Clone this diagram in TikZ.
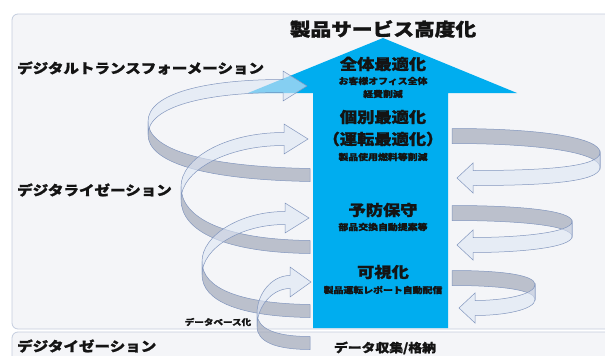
\documentclass[tikz,border=0pt]{standalone}
\usepackage{fontspec}
\newfontfamily\jp{Noto Sans CJK JP}[BoldFeatures={FakeBold=1.2}]
\newcommand\hstretch[1]{\scalebox{1.15}[1]{#1}}
\definecolor{panelbg}{RGB}{244,245,248}
\definecolor{panelline}{RGB}{196,205,222}
\definecolor{bigblue}{RGB}{0,173,239}
\definecolor{ribgray}{RGB}{160,167,184}
\definecolor{ribfront}{RGB}{222,230,244}
\definecolor{ribedge}{RGB}{130,150,190}
\definecolor{ink}{RGB}{20,20,20}
\def\hw{6.5}\def\hh{15}
\newcommand\gband[8]{\path[grayb] (#1,#2-\hw) .. controls (#3,#4-\hw) and (#5,#6-\hw) .. (#7,#8-\hw) -- (#7,#8+\hw) .. controls (#5,#6+\hw) and (#3,#4+\hw) .. (#1,#2+\hw) -- cycle;}
\newcommand\farrow[9]{\path[frontb] (#1,#2-\hw) .. controls (#3,#4-\hw) and (#5,#6-\hw) .. (#7,#8-\hw) -- (#7,#8-\hh) -- (#9,#8) -- (#7,#8+\hh) -- (#7,#8+\hw) .. controls (#5,#6+\hw) and (#3,#4+\hw) .. (#1,#2+\hw) -- cycle;}
\begin{document}
\begin{tikzpicture}[x=1pt,y=-1pt,
  panel/.style={fill=panelbg,draw=panelline,line width=0.8,rounded corners=6},
  grayb/.style={fill=ribgray,fill opacity=0.68,draw=ribedge,line width=0.5},
  frontb/.style={fill=ribfront,fill opacity=0.6,draw=ribedge,line width=0.5},
  lbl/.style={font=\jp\bfseries\fontsize{13.5}{15}\selectfont,text=ink,anchor=west,inner sep=0},
  ttl/.style={font=\jp\bfseries\fontsize{18}{20}\selectfont,text=ink,inner sep=0},
  mid/.style={font=\jp\bfseries\fontsize{15}{17}\selectfont,text=ink,inner sep=0},
  sm/.style={font=\jp\bfseries\fontsize{8.6}{10}\selectfont,text=ink,inner sep=0},
  dbl/.style={font=\jp\bfseries\fontsize{8.3}{10}\selectfont,text=ink,inner sep=0},
  dcl/.style={font=\jp\bfseries\fontsize{12}{14}\selectfont,text=ink,inner sep=0}]
\useasboundingbox (0,0) rectangle (605,356);
\path[panel] (12,14) rectangle (640,329);
\path[panel] (12,332) rectangle (640,380);
\fill[bigblue] (383,38) -- (517,93) -- (448,93) -- (448,328) -- (313,328) -- (313,93) -- (248,93) -- cycle;
% left loops
\gband{310}{175}{200}{173}{148}{155}{148}{128}
\gband{310}{247}{225}{246}{181}{225}{181}{193}
\gband{310}{311}{240}{310}{202}{295}{202}{268}
\gband{310}{343}{275}{343}{257}{335}{257}{320}
\farrow{148}{128}{148}{100}{205}{86}{283}{86}{307}
\farrow{181}{193}{181}{165}{225}{139}{284}{139}{308}
\farrow{202}{268}{202}{242}{240}{218}{285}{218}{309}
\farrow{257}{320}{257}{300}{272}{282}{290}{282}{311}
% right loops
\def\hw{7.5}
\gband{452}{136}{540}{136}{600}{145}{600}{160}
\gband{452}{213}{520}{213}{572}{218}{572}{229}
\gband{452}{278}{505}{278}{535}{283}{535}{292}
\farrow{600}{160}{600}{175}{540}{178}{473}{178}{457}
\farrow{572}{229}{572}{240}{520}{245}{473}{245}{457}
\farrow{535}{292}{535}{302}{505}{308}{475}{308}{459}
% texts
\node[ttl] (title) at (383,29) {\hstretch{製品サービス高度化}};
\node[lbl] (dx) at (17,68) {\hstretch{デジタルトランスフォーメーション}};
\node[lbl] (dz) at (17,190) {\hstretch{デジタライゼーション}};
\node[lbl] (dt) at (17,346) {\hstretch{デジタイゼーション}};
\node[mid] (m1) at (383,64) {\hstretch{全体最適化}};
\node[sm] (s1) at (383,81) {\hstretch{お客様オフィス全体}};
\node[sm] (s1b) at (383,94) {\hstretch{経費削減}};
\node[mid] (m2) at (383,117) {\hstretch{個別最適化}};
\node[mid] (m2b) at (383,139) {\hstretch{（運転最適化）}};
\node[sm] (s2) at (383,157) {\hstretch{製品使用燃料等削減}};
\node[mid] (m3) at (383,210) {\hstretch{予防保守}};
\node[sm] (s3) at (383,227) {\hstretch{部品交換自動提案等}};
\node[mid] (m4) at (383,272) {\hstretch{可視化}};
\node[sm] (s4) at (383,290) {\hstretch{製品運転レポート自動配信}};
\node[dbl] (db) at (218,322) {\hstretch{データベース化}};
\node[dcl] (dc) at (385,348) {\hstretch{データ収集/格納}};
\end{tikzpicture}
\end{document}
